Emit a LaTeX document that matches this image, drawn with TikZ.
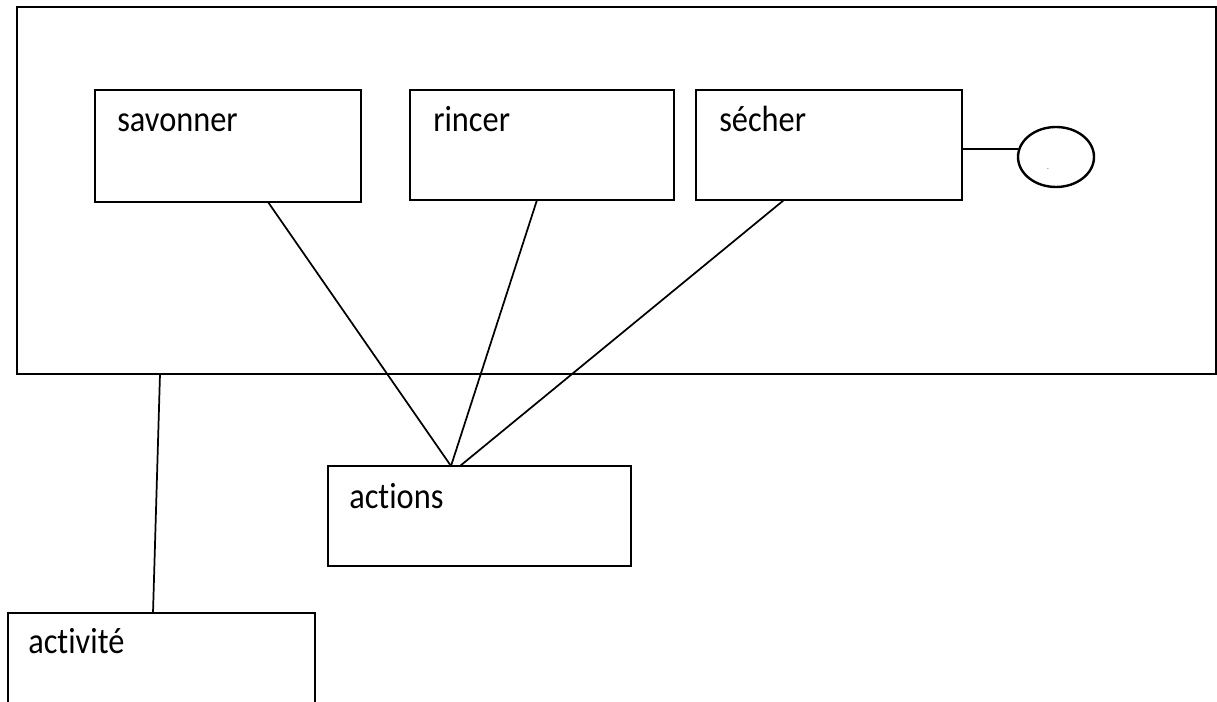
\documentclass[tikz,border=0pt]{standalone}
\usepackage{fontspec}
\setmainfont{Carlito}[Ligatures={NoCommon,NoContextual}]
\newcommand{\tallt}[1]{\scalebox{1.02}[1.15]{#1}}
\begin{document}
\begin{tikzpicture}[x=0.75pt,y=-0.75pt,
  box/.style={draw=black,line width=1.8pt},
  lbl/.style={anchor=base west,inner sep=0pt,font=\fontsize{23.8}{28}\selectfont},
  conn/.style={draw=black,line width=1.3pt}]
\useasboundingbox (0,0) rectangle (1217,702);
\clip (0,0) rectangle (1217,702);
% outer container
\draw[box] (17,7) rectangle (1216,374);
% action boxes
\draw[box] (95,90) rectangle (361,202);
\draw[box] (410,90) rectangle (674,200);
\draw[box] (696,90) rectangle (962,200);
\draw[box] (328,466) rectangle (631,566);
\draw[box] (8,613) rectangle (315,720);
% ellipse
\draw[box] (1056,157) ellipse [x radius=38, y radius=30];
\node[inner sep=0pt] (dot) at (1048,170) {\fontsize{4}{5}\selectfont -};
% labels
\node[lbl] (sav) at (117,132) {\tallt{savonner}};
\node[lbl] (rin) at (433,132) {\tallt{rincer}};
\node[lbl] (sec) at (719,132) {\tallt{sécher}};
\node[lbl] (act) at (349,508) {\tallt{actions}};
\node[lbl] (acv) at (28,653) {\tallt{activité}};
% connector coordinates
\coordinate (savB) at (268,202);
\coordinate (rinB) at (537,200);
\coordinate (secB) at (784,200);
\coordinate (actT1) at (451,466);
\coordinate (actT2) at (460,466);
\coordinate (secR) at (962,149);
\coordinate (ellL) at (1018,149);
\coordinate (outB) at (160,374);
\coordinate (acvT) at (153,613);
\draw[conn] (savB) -- (actT1);
\draw[conn] (rinB) -- (actT1);
\draw[conn] (secB) -- (actT2);
\draw[conn] (secR) -- (ellL);
\draw[conn] (outB) -- (acvT);
\end{tikzpicture}
\end{document}
